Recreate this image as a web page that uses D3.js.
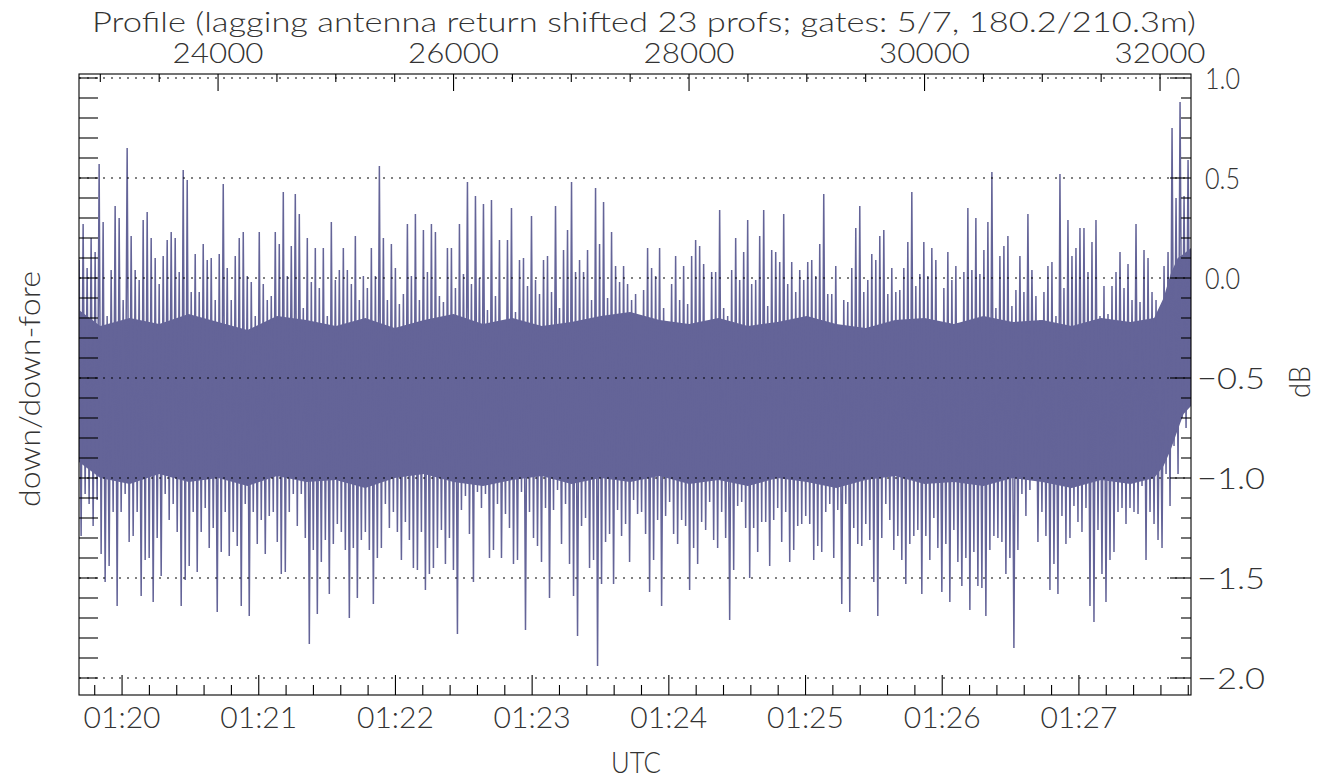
<!DOCTYPE html>
<html><head><meta charset="utf-8">
<script src="https://cdn.jsdelivr.net/npm/d3@7"></script>
<style>
body{margin:0;background:#fff}
svg text{font-family:Lato,"Open Sans",sans-serif;font-weight:300;fill:#333}
</style>
</head><body>
<svg id="chart" width="1319" height="780"></svg>
<script>
// ---------------- data ----------------
const titleText = "Profile (lagging antenna return shifted 23 profs; gates: 5/7, 180.2/210.3m)";
const leftLabel = "down/down-fore";
const rightLabel = "dB";
const bottomLabel = "UTC";

// profile-number axis (top) and UTC axis (bottom) extents
const profileRange = [22819, 32263];
const timeRange = ["1970-01-01T01:19:41.1Z", "1970-01-01T01:27:49.2Z"];
const dbRange = [-2.0, 1.0];
const profileMajorTicks = [24000, 26000, 28000, 30000, 32000];
const dbMajorTicks = [-2.0, -1.5, -1.0, -0.5, 0.0, 0.5, 1.0];
const dbTickLabels = ["\u22122.0", "\u22121.5", "\u22121.0", "\u22120.5", "0.0", "0.5", "1.0"];

// sampled series: per sample a local maximum and a local minimum (dB)
const sampleStart = 22820;   // profile number of first sample
const sampleStep = 34;       // profiles per sample

const hiVals = [
 0.09,0.27,0.05,0.20,0.13,0.57,0.28,-0.19,0.04,0.36,0.30,-0.11,0.65,0.21,0.04,-0.01,0.29,0.33,0.20,0.10,-0.03,0.11,0.19,0.23,0.20,0.03,0.54,0.49,-0.07,0.12,-0.07,0.17,0.09,0.10,-0.11,0.12,0.47,0.05,-0.11,0.11,0.20,0.23,0.01,-0.02,-0.19,0.23,-0.03,-0.11,
 -0.09,0.23,0.17,0.43,0.01,0.16,0.42,0.32,-0.15,0.20,-0.02,0.15,-0.05,0.15,-0.19,0.28,-0.01,0.04,0.15,0.04,-0.03,0.21,-0.11,0.01,-0.05,0.15,0.01,0.56,0.20,-0.11,0.17,0.05,-0.13,-0.08,0.27,0.01,0.32,-0.11,0.24,0.03,0.27,0.23,-0.09,-0.12,0.15,0.15,-0.05,
 0.27,0.02,0.48,-0.03,0.41,0.00,0.37,-0.16,0.39,-0.09,0.19,-0.26,0.19,0.35,-0.17,0.09,0.10,-0.04,0.31,-0.01,-0.08,0.09,0.11,-0.07,0.36,-0.15,0.14,0.24,0.48,0.03,0.09,0.03,0.14,-0.11,0.45,0.17,0.38,-0.10,0.23,0.06,-0.02,0.06,-0.03,-0.11,-0.08,-0.28,
 -0.06,0.15,0.05,0.01,0.15,-0.15,-0.25,-0.03,0.11,-0.11,0.06,-0.13,0.11,0.19,0.16,0.07,-0.31,0.03,0.03,0.34,-0.15,-0.19,0.04,0.20,-0.01,0.13,0.29,-0.03,-0.01,0.21,0.34,-0.14,0.14,0.13,0.08,0.32,-0.03,0.08,-0.07,0.04,-0.01,0.08,0.09,0.01,0.17,0.42,
 -0.08,-0.08,0.06,-0.26,-0.11,-0.12,0.05,0.25,0.36,-0.07,-0.01,0.12,0.09,0.21,0.24,-0.08,0.05,-0.07,-0.06,0.05,0.18,0.43,-0.04,0.02,0.18,0.01,0.15,0.09,-0.25,-0.05,0.13,-0.01,0.06,-0.28,0.03,0.35,0.04,0.30,0.02,0.14,0.28,0.53,-0.15,0.11,0.16,0.21,
 -0.14,-0.06,0.11,-0.07,0.32,0.04,-0.09,-0.21,-0.07,0.06,0.08,-0.19,0.52,-0.05,0.29,0.11,0.15,0.25,0.25,0.03,0.18,0.29,-0.19,-0.04,-0.18,-0.04,0.03,0.13,-0.05,0.07,-0.11,0.27,-0.12,0.14,0.10,-0.07,-0.11,-0.25,0.06,0.13,0.75,0.40,0.88,0.41,0.59
];
const loVals = [
 -1.29,-1.08,-1.13,-1.24,-1.11,-1.38,-1.52,-1.44,-1.17,-1.64,-1.17,-1.08,-1.32,-1.29,-1.17,-1.59,-1.41,-1.40,-1.62,-1.30,-1.49,-1.08,-1.21,-1.13,-1.27,-1.64,-1.51,-1.44,-1.17,-1.47,-1.27,-1.15,-1.35,-1.25,-1.67,-1.37,-1.17,-1.39,-1.27,-1.34,-1.64,-1.13,-1.69,-1.17,-1.33,-1.21,-1.38,-1.19,
 -1.17,-1.32,-1.48,-1.47,-1.17,-1.08,-1.24,-1.08,-1.30,-1.83,-1.36,-1.68,-1.42,-1.31,-1.58,-1.33,-1.23,-1.27,-1.36,-1.70,-1.35,-1.60,-1.31,-1.27,-1.36,-1.63,-1.40,-1.35,-1.13,-1.25,-1.17,-1.27,-1.41,-1.22,-1.31,-1.45,-1.46,-1.27,-1.56,-1.48,-1.45,-1.35,-1.26,-1.43,-1.30,-1.46,-1.78,
 -1.16,-1.09,-1.28,-1.52,-1.07,-1.15,-1.08,-1.40,-1.36,-1.13,-1.40,-1.18,-1.25,-1.43,-1.41,-1.07,-1.76,-1.17,-1.30,-1.34,-1.42,-1.15,-1.60,-1.16,-1.06,-1.33,-1.13,-1.43,-1.59,-1.79,-1.24,-1.20,-1.45,-1.41,-1.94,-1.53,-1.32,-1.28,-1.53,-1.16,-1.29,-1.23,-1.42,-1.11,-1.18,-1.17,
 -1.28,-1.57,-1.41,-1.21,-1.64,-1.19,-1.12,-1.28,-1.33,-1.21,-1.24,-1.56,-1.35,-1.43,-1.22,-1.26,-1.12,-1.31,-1.35,-1.17,-1.30,-1.71,-1.46,-1.14,-1.12,-1.25,-1.50,-1.25,-1.37,-1.22,-1.22,-1.44,-1.21,-1.15,-1.32,-1.17,-1.42,-1.36,-1.24,-1.23,-1.19,-1.23,-1.41,-1.34,-1.37,-1.17,
 -1.13,-1.40,-1.16,-1.63,-1.13,-1.67,-1.25,-1.33,-1.34,-1.23,-1.31,-1.52,-1.69,-1.30,-1.13,-1.21,-1.36,-1.29,-1.41,-1.53,-1.33,-1.29,-1.26,-1.58,-1.29,-1.41,-1.20,-1.35,-1.57,-1.33,-1.62,-1.26,-1.42,-1.54,-1.40,-1.66,-1.37,-1.54,-1.55,-1.69,-1.36,-1.29,-1.30,-1.32,-1.48,-1.40,
 -1.85,-1.36,-1.08,-1.19,-1.06,-0.90,-1.32,-1.17,-1.29,-1.56,-1.43,-1.58,-1.19,-1.33,-1.30,-1.14,-1.22,-1.27,-1.15,-1.64,-1.72,-1.26,-1.48,-1.62,-1.41,-1.37,-1.17,-1.15,-1.23,-1.15,-1.17,-1.18,-1.04,-1.41,-1.17,-1.23,-1.31,-1.35,-0.98,-1.14,-0.84,-0.98,-0.70,-0.75,-0.57
];

// solid part of the trace (where the many samples fill the band), read at coarse steps
const coreProfiles = [22819, 23000, 23250, 23500, 23750, 24000, 24250, 24500, 24750, 25000, 25250, 25500, 25750, 26000, 26250, 26500, 26750, 27000, 27250, 27500, 27750, 28000, 28250, 28500, 28750, 29000, 29250, 29500, 29750, 30000, 30250, 30500, 30750, 31000, 31250, 31500, 31750, 31950, 32030, 32090, 32150, 32200, 32263];
const coreTop = [-0.16,-0.24,-0.20,-0.23,-0.18,-0.22,-0.26,-0.19,-0.21,-0.24,-0.20,-0.25,-0.21,-0.18,-0.23,-0.20,-0.24,-0.22,-0.19,-0.17,-0.21,-0.23,-0.20,-0.24,-0.22,-0.19,-0.23,-0.25,-0.21,-0.20,-0.23,-0.19,-0.22,-0.21,-0.24,-0.20,-0.22,-0.20,-0.10,0.02,0.10,0.12,0.15];
const coreBot = [-0.92,-1.00,-1.03,-0.98,-1.02,-1.00,-1.04,-0.99,-1.02,-1.01,-1.05,-1.00,-0.98,-1.02,-1.04,-1.01,-0.99,-1.03,-1.00,-1.02,-0.99,-1.03,-1.01,-1.04,-1.00,-1.02,-1.05,-1.01,-0.99,-1.03,-1.02,-1.04,-1.00,-1.02,-1.05,-1.01,-1.03,-1.00,-0.94,-0.86,-0.76,-0.68,-0.64];

// ---------------- layout ----------------
const plot = {left:79, right:1191, top:74, bottom:695};
const traceColor = "#646498";

const svg = d3.select("#chart");
const xP = d3.scaleLinear().domain(profileRange).range([plot.left, plot.right]);
const xT = d3.scaleUtc().domain(timeRange.map(s => new Date(s))).range([plot.left, plot.right]);
const y = d3.scaleLinear().domain(dbRange).range([678, 78]);

svg.append("clipPath").attr("id","clip").append("rect")
  .attr("x",plot.left).attr("y",plot.top).attr("width",plot.right-plot.left).attr("height",plot.bottom-plot.top);

// trace
const n = Math.min(hiVals.length, loVals.length);
const pts = [];
for (let i = 0; i < n; i++) {
  const p = sampleStart + i*sampleStep;
  pts.push([p, hiVals[i]]);
  pts.push([p + sampleStep/2, loVals[i]]);
}
const g = svg.append("g").attr("clip-path","url(#clip)");
g.append("path")
  .datum(coreProfiles.map((p,i)=>({p, t:coreTop[i], b:coreBot[i]})))
  .attr("d", d3.area().x(d=>xP(d.p)).y0(d=>y(d.b)).y1(d=>y(d.t)))
  .attr("fill", traceColor);
g.append("path").datum(pts)
  .attr("d", d3.line().x(d=>xP(d[0])).y(d=>y(d[1])))
  .attr("fill","none").attr("stroke",traceColor).attr("stroke-width",1.5)
  .attr("stroke-linejoin","miter").attr("stroke-miterlimit",1);

// dotted grid lines
svg.append("g").selectAll("line").data(dbMajorTicks).join("line")
  .attr("x1",plot.left).attr("x2",plot.right)
  .attr("y1",d=>y(d)).attr("y2",d=>y(d))
  .attr("stroke","#000").attr("stroke-width",1).attr("stroke-dasharray","2,6");

const ax = svg.append("g").attr("stroke","#000").attr("stroke-width",1.1);
// frame
ax.append("rect").attr("x",plot.left).attr("y",plot.top)
  .attr("width",plot.right-plot.left).attr("height",plot.bottom-plot.top).attr("fill","none");

// left ticks every 0.1
const dbMinor = d3.range(-20, 11).map(i => i/10);
ax.selectAll(".lt").data(dbMinor).join("line")
  .attr("x1",plot.left).attr("x2",plot.left+19).attr("y1",d=>y(d)).attr("y2",d=>y(d));
// right ticks
ax.selectAll(".rt").data(dbMinor).join("line")
  .attr("x1",d=> plot.right - (Math.abs(Math.round(d*10))%5===0 ? 21 : 10)).attr("x2",plot.right)
  .attr("y1",d=>y(d)).attr("y2",d=>y(d));
// bottom ticks
const minorTimes = d3.utcSecond.every(12).range(xT.domain()[0], xT.domain()[1]);
ax.selectAll(".bt").data(minorTimes).join("line")
  .attr("x1",d=>xT(d)).attr("x2",d=>xT(d))
  .attr("y1",plot.bottom).attr("y2",d=> plot.bottom - (d.getUTCSeconds()===0 ? 20 : 10));
// top ticks
const profMinor = d3.range(23000, 32001, 500);
ax.selectAll(".tt").data(profMinor).join("line")
  .attr("x1",d=>xP(d)).attr("x2",d=>xP(d))
  .attr("y1",plot.top).attr("y2",d=> plot.top + (d%2000===0 ? 17 : 8));

// ---------------- text ----------------
const FS = 29;
function txt(sel, s, x0, y0, anchor, len, fs) {
  const t = sel.append("text").attr("x",x0).attr("y",y0).attr("font-size",fs || FS)
    .attr("text-anchor",anchor).text(s);
  if (len) t.attr("textLength",len).attr("lengthAdjust","spacingAndGlyphs");
  return t;
}
const tg = svg.append("g");
txt(tg, titleText, 644, 32, "middle", 1104, 28);
profileMajorTicks.forEach(p => txt(tg, d3.format("d")(p), xP(p), 63, "middle", 91, 28));
d3.utcMinute.range(xT.domain()[0], xT.domain()[1]).forEach(t =>
  txt(tg, d3.utcFormat("%H:%M")(t), xT(t), 728, "middle", 77));
txt(tg, bottomLabel, 636, 773, "middle", 50);
dbMajorTicks.forEach((v,i) => {
  const s = dbTickLabels[i];
  const neg = v < 0;
  txt(tg, s, neg ? 1197 : 1205, y(v)+11, "start", neg ? 68 : 35);
});
tg.append("text").attr("transform","translate(1310,382) rotate(-90)")
  .attr("font-size",FS).attr("text-anchor","middle")
  .attr("textLength",32).attr("lengthAdjust","spacingAndGlyphs").text(rightLabel);
tg.append("text").attr("transform","translate(40,389) rotate(-90)")
  .attr("font-size",FS).attr("text-anchor","middle")
  .attr("textLength",236).attr("lengthAdjust","spacingAndGlyphs").text(leftLabel);
</script>
</body></html>
